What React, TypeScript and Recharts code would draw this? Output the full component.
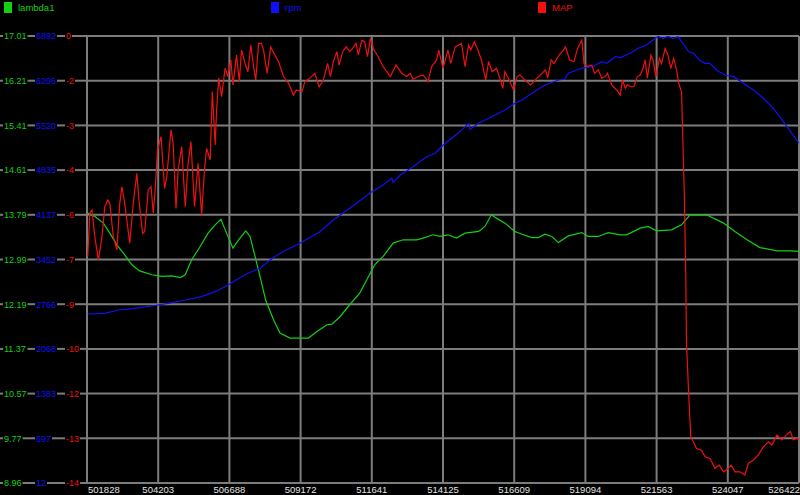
import React from 'react';
import { LineChart, Line, XAxis, YAxis, CartesianGrid } from 'recharts';

const xTickLabels = ['501828', '504203', '506688', '509172', '511641', '514125', '516609', '519094', '521563', '524047', '526422'];
const lambdaTickLabels = ['17.01', '16.21', '15.41', '14.61', '13.79', '12.99', '12.19', '11.37', '10.57', '9.77', '8.96'];
const rpmTickLabels = ['6892', '6206', '5520', '4835', '4137', '3452', '2766', '2068', '1383', '697', '12'];
const mapTickLabels = ['0', '-2', '-3', '-4', '-6', '-7', '-9', '-10', '-12', '-13', '-14'];

const seriesNames = ['lambda1', 'rpm', 'MAP'];
const lambdaDomain = [8.96, 17.01];
const rpmDomain = [12, 6892];
const mapDomain = [-14, 0];

// [x position (grid index 0..10), value]
const lambdaPoints: number[][] = [
  [0.01, 13.82], [0.11, 13.76], [0.23, 13.64], [0.32, 13.46], [0.42, 13.25], [0.53, 13.07], [0.63, 12.89], [0.74, 12.78],
  [0.91, 12.71], [1.05, 12.68], [1.19, 12.69], [1.31, 12.66], [1.38, 12.71], [1.47, 12.98], [1.59, 13.22], [1.70, 13.46],
  [1.80, 13.61], [1.88, 13.71], [1.96, 13.46], [2.05, 13.19], [2.13, 13.34], [2.23, 13.50], [2.29, 13.40], [2.36, 13.04],
  [2.43, 12.68], [2.51, 12.25], [2.62, 11.90], [2.71, 11.66], [2.85, 11.57], [3.11, 11.57], [3.23, 11.69], [3.37, 11.81],
  [3.44, 11.82], [3.55, 11.95], [3.69, 12.17], [3.83, 12.38], [3.93, 12.62], [4.04, 12.89], [4.16, 13.04], [4.30, 13.28],
  [4.44, 13.34], [4.63, 13.34], [4.72, 13.37], [4.86, 13.43], [4.96, 13.40], [5.07, 13.43], [5.19, 13.37], [5.31, 13.46],
  [5.50, 13.49], [5.59, 13.58], [5.68, 13.79], [5.75, 13.73], [5.87, 13.64], [6.01, 13.49], [6.11, 13.44], [6.25, 13.38],
  [6.34, 13.38], [6.43, 13.44], [6.53, 13.40], [6.62, 13.29], [6.76, 13.41], [6.95, 13.47], [7.04, 13.40], [7.18, 13.40],
  [7.32, 13.47], [7.49, 13.43], [7.58, 13.43], [7.77, 13.55], [7.88, 13.58], [8.00, 13.50], [8.21, 13.52], [8.35, 13.61],
  [8.47, 13.79], [8.70, 13.79], [8.94, 13.64], [9.10, 13.49], [9.27, 13.34], [9.45, 13.20], [9.69, 13.14], [9.88, 13.14],
  [10.0, 13.13],
];

const rpmPoints: number[][] = [
  [0.01, 2613], [0.25, 2624], [0.44, 2675], [0.67, 2701], [0.91, 2736], [1.14, 2778], [1.38, 2829], [1.61, 2880],
  [1.80, 2957], [1.98, 3060], [2.17, 3187], [2.31, 3264], [2.43, 3317], [2.57, 3444], [2.71, 3548], [2.99, 3702],
  [3.27, 3880], [3.46, 4060], [3.69, 4240], [3.97, 4471], [4.16, 4599], [4.28, 4702], [4.30, 4634], [4.40, 4753],
  [4.58, 4880], [4.77, 5034], [4.89, 5087], [5.03, 5241], [5.21, 5394], [5.36, 5548], [5.38, 5456], [5.50, 5548],
  [5.68, 5650], [5.87, 5753], [6.01, 5856], [6.11, 5907], [6.25, 6010], [6.43, 6138], [6.62, 6215], [6.71, 6226],
  [6.76, 6318], [6.95, 6395], [7.09, 6420], [7.23, 6496], [7.30, 6472], [7.42, 6573], [7.49, 6560], [7.63, 6626],
  [7.74, 6703], [7.86, 6753], [7.95, 6830], [8.02, 6885], [8.09, 6857], [8.16, 6885], [8.23, 6857], [8.30, 6881],
  [8.37, 6780], [8.45, 6650], [8.52, 6626], [8.60, 6523], [8.68, 6472], [8.75, 6472], [8.84, 6369], [8.96, 6292],
  [9.08, 6266], [9.22, 6164], [9.36, 6061], [9.50, 5933], [9.64, 5779], [9.78, 5573], [9.90, 5394], [10.0, 5241],
];

const mapPoints: number[][] = [
  [0.01, -6.91], [0.04, -5.55], [0.07, -5.45], [0.11, -6.29], [0.16, -7.02], [0.21, -6.29], [0.25, -5.35], [0.29, -5.14], [0.32, -5.24], [0.37, -6.29],
  [0.42, -6.70], [0.46, -5.24], [0.49, -4.72], [0.53, -5.24], [0.60, -6.49], [0.65, -5.24], [0.70, -4.30], [0.73, -5.14], [0.78, -6.18], [0.81, -6.13],
  [0.86, -4.82], [0.90, -4.72], [0.93, -5.55], [0.96, -4.72], [0.99, -3.57], [1.04, -3.15], [1.09, -4.77], [1.12, -4.41], [1.18, -2.94], [1.21, -3.36],
  [1.25, -5.40], [1.28, -4.20], [1.33, -3.46], [1.38, -5.35], [1.42, -3.99], [1.46, -3.31], [1.51, -5.35], [1.56, -3.99], [1.61, -5.61], [1.65, -4.20],
  [1.68, -3.52], [1.73, -3.88], [1.76, -1.74], [1.80, -3.41], [1.82, -2.32], [1.85, -1.32], [1.89, -1.90], [1.94, -1.01], [1.98, -1.27], [2.02, -0.75],
  [2.05, -1.53], [2.10, -0.60], [2.14, -1.43], [2.17, -0.44], [2.22, -0.86], [2.26, -1.12], [2.30, -0.28], [2.34, -0.96], [2.37, -1.38], [2.41, -0.23],
  [2.45, -0.23], [2.48, -0.44], [2.53, -1.17], [2.58, -0.34], [2.64, -0.60], [2.69, -0.80], [2.76, -1.27], [2.83, -1.48], [2.90, -1.85], [2.94, -1.69],
  [3.02, -1.74], [3.06, -1.43], [3.13, -1.32], [3.20, -1.17], [3.26, -1.59], [3.32, -1.38], [3.38, -0.86], [3.42, -1.27], [3.46, -0.80], [3.51, -0.49],
  [3.54, -0.91], [3.59, -0.49], [3.64, -0.34], [3.69, -0.49], [3.73, -0.39], [3.78, -0.23], [3.81, -0.60], [3.86, -0.13], [3.90, -0.18], [3.94, -0.65],
  [3.98, -0.07], [4.03, -0.44], [4.09, -0.65], [4.16, -0.96], [4.26, -1.27], [4.34, -0.91], [4.42, -1.17], [4.49, -1.27], [4.54, -1.17], [4.58, -1.36],
  [4.65, -1.27], [4.72, -1.22], [4.79, -1.43], [4.84, -0.96], [4.91, -0.75], [4.94, -0.44], [5.00, -1.01], [5.07, -0.44], [5.11, -0.86], [5.17, -0.34],
  [5.26, -0.23], [5.31, -0.96], [5.36, -0.28], [5.39, -0.44], [5.44, -0.18], [5.49, -0.44], [5.54, -0.75], [5.60, -1.38], [5.64, -0.80], [5.69, -1.12],
  [5.75, -1.01], [5.79, -1.27], [5.84, -1.64], [5.87, -1.12], [5.93, -1.38], [5.99, -1.69], [6.04, -1.27], [6.08, -1.22], [6.15, -1.38], [6.23, -1.53],
  [6.32, -1.32], [6.39, -1.17], [6.44, -1.06], [6.47, -1.32], [6.52, -0.75], [6.56, -0.86], [6.63, -0.60], [6.69, -0.44], [6.72, -0.34], [6.78, -0.75],
  [6.84, -0.80], [6.89, -0.39], [6.95, -0.13], [6.98, -0.86], [7.03, -0.96], [7.09, -0.91], [7.13, -1.17], [7.18, -1.06], [7.23, -1.32], [7.28, -1.27],
  [7.31, -1.17], [7.37, -1.53], [7.44, -1.69], [7.49, -1.85], [7.52, -1.38], [7.56, -1.64], [7.59, -1.53], [7.64, -1.59], [7.68, -1.59], [7.73, -1.27],
  [7.77, -1.22], [7.81, -1.01], [7.84, -0.75], [7.87, -1.32], [7.92, -0.60], [7.95, -0.75], [7.99, -1.27], [8.04, -0.70], [8.07, -0.86], [8.12, -0.39],
  [8.16, -0.60], [8.20, -1.01], [8.24, -0.70], [8.28, -1.06], [8.31, -1.48], [8.35, -1.74], [8.37, -3.36], [8.39, -5.0], [8.41, -7.6], [8.42, -9.6],
  [8.45, -11.18], [8.48, -12.55], [8.56, -12.91], [8.63, -12.97], [8.68, -13.18], [8.75, -13.23], [8.82, -13.54], [8.88, -13.44], [8.94, -13.65], [8.98, -13.59],
  [9.05, -13.44], [9.10, -13.65], [9.17, -13.65], [9.24, -13.75], [9.29, -13.38], [9.36, -13.28], [9.43, -13.12], [9.50, -12.86], [9.57, -12.71], [9.62, -12.81],
  [9.69, -12.50], [9.76, -12.65], [9.82, -12.50], [9.88, -12.39], [9.92, -12.65], [9.97, -12.60], [10.0, -12.65],
];

const GREEN = '#12d012';
const BLUE = '#1010f8';
const RED = '#f01010';
const GRID = '#7c7c7c';
const FONT = '"Liberation Sans", Arial, sans-serif';

const toData = (pts: number[][]) => pts.map(([x, v]) => ({ x, v }));
const lambdaData = toData(lambdaPoints);
const rpmData = toData(rpmPoints);
const mapData = toData(mapPoints);

const gridSteps = [0, 1, 2, 3, 4, 5, 6, 7, 8, 9, 10];
const lambdaStep = (lambdaDomain[1] - lambdaDomain[0]) / 10;
const lambdaGridTicks = gridSteps.map((k) => lambdaDomain[0] + k * lambdaStep);

const textW = (s: string) =>
  s.split('').reduce((w, c) => w + (c === '.' ? 2.5 : c === '-' ? 3 : 5), 0);

const YTick = (props: any) => {
  const { y, payload } = props;
  const k = Math.round((payload.value - lambdaDomain[0]) / lambdaStep);
  const i = 10 - k;
  const g = lambdaTickLabels[i];
  const b = rpmTickLabels[i];
  const r = mapTickLabels[i];
  const gx = 4, bx = 36, rx = 66;
  const segs = [
    [0, gx - 1],
    [gx + textW(g) + 1, bx - 1],
    [bx + textW(b) + 1, rx - 1],
    [rx + textW(r) + 1, 87],
  ];
  return (
    <g>
      {segs.map(([a, c], n) => (
        <line key={n} x1={a} x2={c} y1={y} y2={y} stroke={GRID} strokeWidth={2} />
      ))}
      <text x={gx} y={y + 3.3} fill={GREEN} fontSize={9} fontFamily={FONT}>{g}</text>
      <text x={bx} y={y + 3.3} fill={BLUE} fontSize={9} fontFamily={FONT}>{b}</text>
      <text x={rx} y={y + 3.3} fill={RED} fontSize={9} fontFamily={FONT}>{r}</text>
    </g>
  );
};

const XTick = (props: any) => {
  const { x, payload } = props;
  const i = Math.round(payload.value);
  const anchor = i === 0 ? 'start' : i === 10 ? 'end' : 'middle';
  const tx = i === 0 ? x + 1 : i === 10 ? 800 : x;
  return (
    <text x={tx} y={492.5} textAnchor={anchor} fill="#e4e4e4" fontSize={9.5} fontFamily={FONT}>
      {xTickLabels[i]}
    </text>
  );
};

const legendColors = [GREEN, BLUE, RED];

export default function App() {
  return (
    <div style={{ position: 'absolute', left: 0, top: 0, width: 800, height: 495, background: '#000', overflow: 'hidden' }}>
      <LineChart width={800} height={495} margin={{ top: 36, right: 1, bottom: 0, left: 0 }}>
        <CartesianGrid yAxisId="lambda" stroke={GRID} strokeWidth={2} horizontal vertical />
        <XAxis
          dataKey="x"
          type="number"
          domain={[0, 10]}
          ticks={gridSteps}
          interval={0}
          height={12}
          tick={<XTick />}
          tickLine={false}
          axisLine={false}
          allowDataOverflow
        />
        <YAxis
          yAxisId="lambda"
          type="number"
          domain={lambdaDomain}
          ticks={lambdaGridTicks}
          interval={0}
          width={87}
          tick={<YTick />}
          tickLine={false}
          axisLine={false}
          allowDataOverflow
        />
        <YAxis yAxisId="rpm" type="number" domain={rpmDomain} hide allowDataOverflow />
        <YAxis yAxisId="map" type="number" domain={mapDomain} hide allowDataOverflow />
        <Line yAxisId="lambda" data={lambdaData} dataKey="v" name={seriesNames[0]} stroke={GREEN} strokeWidth={1.2} dot={false} isAnimationActive={false} />
        <Line yAxisId="rpm" data={rpmData} dataKey="v" name={seriesNames[1]} stroke={BLUE} strokeWidth={1.2} dot={false} isAnimationActive={false} />
        <Line yAxisId="map" data={mapData} dataKey="v" name={seriesNames[2]} stroke={RED} strokeWidth={1.2} dot={false} isAnimationActive={false} />
      </LineChart>
      {seriesNames.map((n, i) => (
        <div
          key={n}
          style={{
            position: 'absolute',
            left: 4 + i * 267,
            top: 2,
            display: 'flex',
            alignItems: 'center',
            fontFamily: FONT,
            fontSize: 9.5,
            color: legendColors[i],
            lineHeight: '11px',
          }}
        >
          <span style={{ display: 'inline-block', width: 8, height: 11, background: legendColors[i], marginRight: 6 }} />
          <span>{n}</span>
        </div>
      ))}
    </div>
  );
}
